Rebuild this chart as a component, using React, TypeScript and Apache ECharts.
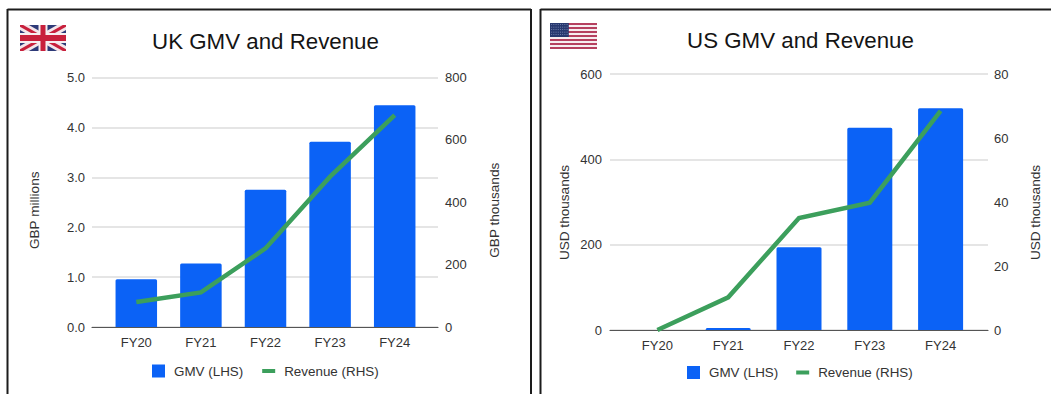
import React, { useEffect, useRef } from "react";
import * as echarts from "echarts";

const categories = ["FY20", "FY21", "FY22", "FY23", "FY24"];

const ukGmv = [0.955, 1.275, 2.75, 3.71, 4.445];
const ukRevenue = [80, 111, 252, 482, 679];
const usGmv = [0, 4.7, 194, 474, 520];
const usRevenue = [0, 10.2, 35, 39.8, 68.5];

const BLUE = "#0b62f6";
const GREEN = "#3c9f5c";
const FONT = "'Liberation Sans', Arial, sans-serif";
const LINE_ICON = "path://M0 0h13v4H0z";

type Panel = {
  title: string;
  titleX: number;
  titleY: number;
  gmv: number[];
  revenue: number[];
  leftName: string;
  rightName: string;
  leftMax: number;
  leftStep: number;
  rightMax: number;
  rightStep: number;
  leftDecimals: number;
  outer: { left: number; right: number; top: number; bottom: number };
  inner: { left: number; right: number };
  barWidth: number;
  legendX: number;
  legendY: number;
  legendGap: number;
  leftNameGap: number;
  rightNameGap: number;
  leftMargin: number;
  rightMargin: number;
  nameShift: number;
};

const ukPanel: Panel = {
  title: "UK GMV and Revenue",
  titleX: 265.5,
  titleY: 30.5,
  gmv: ukGmv,
  revenue: ukRevenue,
  leftName: "GBP millions",
  rightName: "GBP thousands",
  leftMax: 5,
  leftStep: 1,
  rightMax: 800,
  rightStep: 200,
  leftDecimals: 1,
  outer: { left: 92, right: 438, top: 77.5, bottom: 327 },
  inner: { left: 104, right: 427 },
  barWidth: 41.5,
  legendX: 152,
  legendY: 364.5,
  legendGap: 19,
  leftNameGap: 51,
  rightNameGap: 49,
  leftMargin: 7,
  rightMargin: 7,
  nameShift: 16,
};

const usPanel: Panel = {
  title: "US GMV and Revenue",
  titleX: 800.5,
  titleY: 29,
  gmv: usGmv,
  revenue: usRevenue,
  leftName: "USD thousands",
  rightName: "USD thousands",
  leftMax: 600,
  leftStep: 200,
  rightMax: 80,
  rightStep: 20,
  leftDecimals: 0,
  outer: { left: 610, right: 988, top: 74, bottom: 330 },
  inner: { left: 622, right: 976 },
  barWidth: 45,
  legendX: 687,
  legendY: 366,
  legendGap: 18,
  leftNameGap: 39,
  rightNameGap: 40,
  leftMargin: 8,
  rightMargin: 6,
  nameShift: 21,
};

const WIDTH = 1051;
const HEIGHT = 394;

function gridBox(left: number, right: number, top: number, bottom: number) {
  return {
    show: false,
    left,
    width: right - left,
    top,
    height: bottom - top,
    containLabel: false,
  };
}

// One panel contributes an outer grid (rules and tick labels, wider than the
// bands) and an inner grid (bars and line), both sharing the same vertical scale.
function panelOption(p: Panel, index: number) {
  const outerGrid = index * 2;
  const innerGrid = outerGrid + 1;
  const axisText = { color: "#333", fontSize: 13, fontFamily: FONT };
  // Right padding on a rotated name moves it down along the axis.
  const nameText = {
    color: "#333",
    fontSize: 13.6,
    fontFamily: FONT,
    padding: [0, p.nameShift, 0, 0],
  };

  return {
    grid: [
      gridBox(p.outer.left, p.outer.right, p.outer.top, p.outer.bottom),
      gridBox(p.inner.left, p.inner.right, p.outer.top, p.outer.bottom),
    ],
    xAxis: [
      {
        type: "category",
        gridIndex: outerGrid,
        data: [""],
        axisTick: { show: false },
        axisLabel: { show: false },
        axisLine: { show: true, lineStyle: { color: "#555", width: 1.2 } },
        splitLine: { show: false },
      },
      {
        type: "category",
        gridIndex: innerGrid,
        data: categories,
        axisTick: { show: false },
        axisLine: { show: false },
        axisLabel: { ...axisText, margin: 9, interval: 0 },
      },
    ],
    yAxis: [
      {
        type: "value",
        gridIndex: outerGrid,
        position: "left",
        min: 0,
        max: p.leftMax,
        interval: p.leftStep,
        name: p.leftName,
        nameLocation: "middle",
        nameGap: p.leftNameGap,
        nameRotate: 90,
        nameTextStyle: nameText,
        axisLine: { show: false },
        axisTick: { show: false },
        axisLabel: {
          ...axisText,
          margin: p.leftMargin,
          formatter: (v: number) => v.toFixed(p.leftDecimals),
        },
        splitLine: { show: true, lineStyle: { color: "#dcdcdc", width: 1.5 } },
      },
      {
        type: "value",
        gridIndex: outerGrid,
        position: "right",
        min: 0,
        max: p.rightMax,
        interval: p.rightStep,
        name: p.rightName,
        nameLocation: "middle",
        nameGap: p.rightNameGap,
        nameRotate: 90,
        nameTextStyle: nameText,
        axisLine: { show: false },
        axisTick: { show: false },
        axisLabel: { ...axisText, margin: p.rightMargin },
        splitLine: { show: false },
      },
      {
        type: "value",
        gridIndex: innerGrid,
        min: 0,
        max: p.leftMax,
        show: false,
      },
      {
        type: "value",
        gridIndex: innerGrid,
        min: 0,
        max: p.rightMax,
        show: false,
      },
    ],
    series: [
      {
        name: "GMV (LHS)",
        type: "bar",
        xAxisIndex: innerGrid,
        yAxisIndex: index * 4 + 2,
        data: p.gmv,
        barWidth: p.barWidth,
        itemStyle: { color: BLUE, borderRadius: [1.5, 1.5, 0, 0] },
      },
      {
        name: "Revenue (RHS)",
        type: "line",
        xAxisIndex: innerGrid,
        yAxisIndex: index * 4 + 3,
        data: p.revenue,
        symbol: "none",
        itemStyle: { color: GREEN },
        lineStyle: { color: GREEN, width: 4.5, cap: "butt", join: "miter" },
      },
    ],
    title: {
      text: p.title,
      left: p.titleX,
      top: p.titleY,
      padding: 0,
      textAlign: "center",
      textStyle: { color: "#141414", fontSize: 22.3, fontWeight: "normal", fontFamily: FONT },
    },
    legend: {
      left: p.legendX,
      top: p.legendY,
      itemWidth: 13,
      itemHeight: 13,
      itemGap: p.legendGap,
      padding: 0,
      selectedMode: false,
      textStyle: { color: "#333", fontSize: 13.4, fontFamily: FONT, padding: [0, 0, 0, 4] },
      data: [
        { name: "GMV (LHS)", icon: "rect", itemStyle: { color: BLUE } },
        { name: "Revenue (RHS)", icon: LINE_ICON, itemStyle: { color: GREEN } },
      ],
    },
  };
}

function ukFlag(x: number, y: number, w: number, h: number) {
  const navy = "#2d3a78";
  const red = "#c8203c";
  const diagonal = (t: number) => {
    const dx = (t * w) / h;
    return [
      [[x, y], [x + dx, y], [x + w, y + h - t], [x + w, y + h], [x + w - dx, y + h], [x, y + t]],
      [[x + w, y], [x + w, y + t], [x + dx, y + h], [x, y + h], [x, y + h - t], [x + w - dx, y]],
    ];
  };
  const poly = (points: number[][], fill: string) => ({
    type: "polygon",
    shape: { points },
    style: { fill },
  });
  const rect = (rx: number, ry: number, rw: number, rh: number, fill: string) => ({
    type: "rect",
    shape: { x: rx, y: ry, width: rw, height: rh },
    style: { fill },
  });
  return [
    rect(x, y, w, h, navy),
    ...diagonal(5).map((pts) => poly(pts, "#f4e6ea")),
    ...diagonal(1.8).map((pts) => poly(pts, red)),
    rect(x + w / 2 - 4.5, y, 9, h, "#f6eef0"),
    rect(x, y + h / 2 - 5, w, 10, "#f6eef0"),
    rect(x + w / 2 - 2.5, y, 5, h, red),
    rect(x, y + h / 2 - 3, w, 6, red),
  ];
}

function usFlag(x: number, y: number, w: number, h: number) {
  const rows = Array.from({ length: 13 }, (_, i) => i);
  const stripes = rows.map((i) => ({
    type: "rect",
    shape: { x, y: y + (i * h) / 13, width: w, height: h / 13 },
    style: { fill: i % 2 === 0 ? "#b5405f" : "#f7edf0" },
  }));
  const cantonW = w * 0.4;
  const cantonH = (h * 7) / 13;
  const dots: object[] = [];
  for (let r = 0; r < 5; r++) {
    for (let c = 0; c < 8; c++) {
      dots.push({
        type: "rect",
        shape: { x: x + 1.2 + c * 2.2, y: y + 1.2 + r * 2.5, width: 0.9, height: 0.9 },
        style: { fill: "#8f9cc4" },
      });
    }
  }
  return [
    ...stripes,
    {
      type: "rect",
      shape: { x, y, width: cantonW, height: cantonH },
      style: { fill: "#27386f" },
    },
    ...dots,
  ];
}

// Dark frames around the two panels; both stay open along the bottom edge.
function frames() {
  const rule = { stroke: "#1c1c1c", lineWidth: 2 };
  const seg = (x1: number, y1: number, x2: number, y2: number) => ({
    type: "line",
    shape: { x1, y1, x2, y2 },
    style: rule,
  });
  return [
    seg(7.5, 9.5, 531, 9.5),
    seg(7.5, 9, 7.5, HEIGHT),
    seg(531, 9, 531, HEIGHT),
    seg(540.5, 9.5, WIDTH, 9.5),
    seg(540.5, 9, 540.5, HEIGHT),
  ];
}

function buildOption() {
  const a: any = panelOption(ukPanel, 0);
  const b: any = panelOption(usPanel, 1);
  return {
    animation: false,
    backgroundColor: "#ffffff",
    grid: [...a.grid, ...b.grid],
    xAxis: [...a.xAxis, ...b.xAxis],
    yAxis: [...a.yAxis, ...b.yAxis],
    series: [...a.series, ...b.series],
    title: [a.title, b.title],
    legend: [a.legend, b.legend],
    graphic: {
      elements: [...frames(), ...ukFlag(20, 25, 46, 26), ...usFlag(550, 23, 47, 26)],
    },
  };
}

export default function App() {
  const ref = useRef<HTMLDivElement>(null);

  useEffect(() => {
    document.body.style.margin = "0";
    const chart = echarts.init(ref.current!, undefined, { renderer: "svg" });
    chart.setOption(buildOption());
    return () => chart.dispose();
  }, []);

  return <div ref={ref} style={{ width: WIDTH, height: HEIGHT }} />;
}
